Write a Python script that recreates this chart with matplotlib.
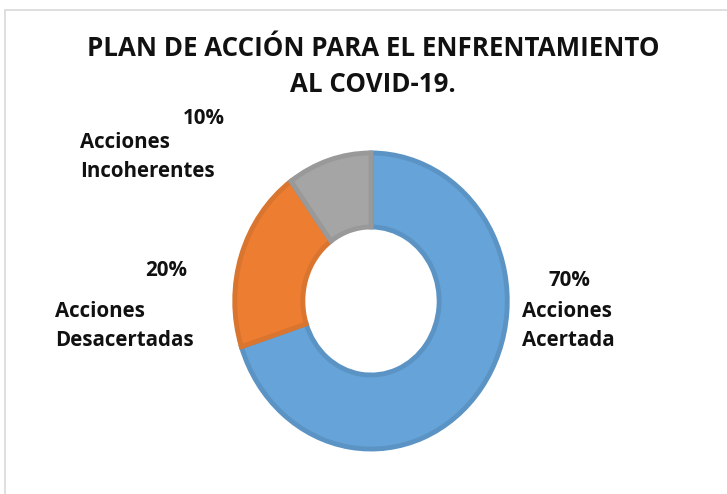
import matplotlib
matplotlib.use('Agg')

import matplotlib.pyplot as plt
from matplotlib.patches import Rectangle

categories = ["Acciones Acertada", "Acciones Desacertadas", "Acciones Incoherentes"]
values = [70, 20, 10]
colors = ["#65A3D8", "#ED7D31", "#A5A5A5"]
edge_colors = ["#5B94C4", "#D9752F", "#999999"]

plt.rcParams['font.family'] = ['Open Sans', 'DejaVu Sans']

W, H = 727, 494
fig = plt.figure(figsize=(W / 100, H / 100), dpi=100)

# light frame around the chart area
fig.patches.append(Rectangle((5 / W, -0.1), 1.2, (H - 10) / H + 0.1,
                             transform=fig.transFigure, fill=False,
                             edgecolor="#D9D9D9", linewidth=1.2))

# donut is a bit taller than wide in the reference
ax = fig.add_axes([232 / W, (H - 452) / H, 278 / W, 302 / H])
wedges, _ = ax.pie(values, colors=colors, startangle=90, counterclock=False,
                   radius=1.0, wedgeprops=dict(width=0.5, linewidth=3.5))
for w, ec in zip(wedges, edge_colors):
    w.set_edgecolor(ec)
ax.set_aspect('auto')
ax.set_xlim(-1.02, 1.02)
ax.set_ylim(-1.02, 1.02)
ax.axis('off')

def px(x, y):
    return x / W, 1 - y / H

title = dict(ha='center', va='center', fontsize=18.6, fontweight='bold', color='#111111')
fig.text(*px(373, 49), "PLAN DE ACCIÓN PARA EL ENFRENTAMIENTO", **title)
fig.text(*px(373, 85), "AL COVID-19.", **title)

lab = dict(fontsize=14.8, fontweight='bold', color='#111111', linespacing=1.52)

fig.text(*px(204, 118), f"{values[2]}%", ha='center', va='center', **lab)
fig.text(*px(80, 157), "Acciones\nIncoherentes", ha='left', va='center', **lab)

fig.text(*px(166, 270), f"{values[1]}%", ha='center', va='center', **lab)
fig.text(*px(55, 326), "Acciones\nDesacertadas", ha='left', va='center', **lab)

fig.text(*px(569, 280), f"{values[0]}%", ha='center', va='center', **lab)
fig.text(*px(522, 326), "Acciones\nAcertada", ha='left', va='center', **lab)

fig.savefig("out.png", dpi=100, facecolor='white')
